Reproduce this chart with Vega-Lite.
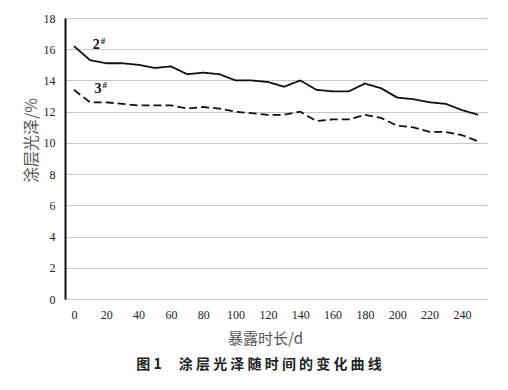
{
  "$schema": "https://vega.github.io/schema/vega-lite/v6.json",
  "width": 422,
  "height": 281,
  "autosize": "none",
  "padding": {"left": 65, "top": 18, "right": 21, "bottom": 91},
  "background": "white",
  "config": {"view": {"stroke": null}},
  "title": {
    "text": "图 1　 涂 层 光 泽 随 时 间 的 变 化 曲 线",
    "orient": "bottom",
    "anchor": "middle",
    "frame": "group",
    "dx": -17,
    "offset": 12,
    "font": "Noto Sans CJK SC",
    "fontSize": 14,
    "fontWeight": "bold",
    "color": "#222"
  },
  "datasets": {
    "gloss": [
      {"day": 0, "s": "2#", "v": 16.2}, {"day": 10, "s": "2#", "v": 15.3}, {"day": 20, "s": "2#", "v": 15.1},
      {"day": 30, "s": "2#", "v": 15.1}, {"day": 40, "s": "2#", "v": 15.0}, {"day": 50, "s": "2#", "v": 14.8},
      {"day": 60, "s": "2#", "v": 14.9}, {"day": 70, "s": "2#", "v": 14.4}, {"day": 80, "s": "2#", "v": 14.5},
      {"day": 90, "s": "2#", "v": 14.4}, {"day": 100, "s": "2#", "v": 14.0}, {"day": 110, "s": "2#", "v": 14.0},
      {"day": 120, "s": "2#", "v": 13.9}, {"day": 130, "s": "2#", "v": 13.6}, {"day": 140, "s": "2#", "v": 14.0},
      {"day": 150, "s": "2#", "v": 13.4}, {"day": 160, "s": "2#", "v": 13.3}, {"day": 170, "s": "2#", "v": 13.3},
      {"day": 180, "s": "2#", "v": 13.8}, {"day": 190, "s": "2#", "v": 13.5}, {"day": 200, "s": "2#", "v": 12.9},
      {"day": 210, "s": "2#", "v": 12.8}, {"day": 220, "s": "2#", "v": 12.6}, {"day": 230, "s": "2#", "v": 12.5},
      {"day": 240, "s": "2#", "v": 12.1}, {"day": 250, "s": "2#", "v": 11.8},
      {"day": 0, "s": "3#", "v": 13.4}, {"day": 10, "s": "3#", "v": 12.6}, {"day": 20, "s": "3#", "v": 12.6},
      {"day": 30, "s": "3#", "v": 12.5}, {"day": 40, "s": "3#", "v": 12.4}, {"day": 50, "s": "3#", "v": 12.4},
      {"day": 60, "s": "3#", "v": 12.4}, {"day": 70, "s": "3#", "v": 12.2}, {"day": 80, "s": "3#", "v": 12.3},
      {"day": 90, "s": "3#", "v": 12.2}, {"day": 100, "s": "3#", "v": 12.0}, {"day": 110, "s": "3#", "v": 11.9},
      {"day": 120, "s": "3#", "v": 11.8}, {"day": 130, "s": "3#", "v": 11.8}, {"day": 140, "s": "3#", "v": 12.0},
      {"day": 150, "s": "3#", "v": 11.4}, {"day": 160, "s": "3#", "v": 11.5}, {"day": 170, "s": "3#", "v": 11.5},
      {"day": 180, "s": "3#", "v": 11.8}, {"day": 190, "s": "3#", "v": 11.6}, {"day": 200, "s": "3#", "v": 11.1},
      {"day": 210, "s": "3#", "v": 11.0}, {"day": 220, "s": "3#", "v": 10.7}, {"day": 230, "s": "3#", "v": 10.7},
      {"day": 240, "s": "3#", "v": 10.5}, {"day": 250, "s": "3#", "v": 10.1}
    ],
    "labels": [
      {"day": 16, "v": 16.25, "num": "2", "sup": "#"},
      {"day": 17, "v": 13.45, "num": "3", "sup": "#"}
    ]
  },
  "layer": [
    {
      "data": {"name": "gloss"},
      "mark": {"type": "line", "color": "#111", "strokeWidth": 1.8},
      "encoding": {
        "x": {
          "field": "day", "type": "quantitative",
          "scale": {"domain": [-5.5, 255.5], "nice": false, "zero": false},
          "axis": {
            "values": [0, 20, 40, 60, 80, 100, 120, 140, 160, 180, 200, 220, 240],
            "tickCount": 30, "format": "d",
            "labelOverlap": false, "labelBound": false, "labelFlush": false,
            "grid": false, "ticks": false, "domain": false,
            "labelFont": "Liberation Serif", "labelFontSize": 12, "labelColor": "#222",
            "labelPadding": 10,
            "title": "暴露时长/d", "titleFont": "Noto Sans CJK SC", "titleFontSize": 15,
            "titleFontWeight": "normal", "titleColor": "#555", "titlePadding": 11,
            "titleX": 200, "titleAnchor": "middle"
          }
        },
        "y": {
          "field": "v", "type": "quantitative",
          "scale": {"domain": [0, 18], "nice": false},
          "axis": {
            "values": [0, 2, 4, 6, 8, 10, 12, 14, 16, 18],
            "tickCount": 30, "format": "d",
            "labelOverlap": false, "labelBound": false, "labelFlush": false,
            "grid": true, "gridColor": "#c8c8c8", "gridWidth": 1,
            "ticks": false, "domainColor": "#111", "domainWidth": 2,
            "labelFont": "Liberation Serif", "labelFontSize": 12, "labelColor": "#222",
            "labelPadding": 10,
            "title": "涂层光泽/%", "titleFont": "Noto Sans CJK SC", "titleFontSize": 16,
            "titleFontWeight": "normal", "titleColor": "#555",
            "titleX": -26, "titleY": 122, "titleAnchor": "middle"
          }
        },
        "strokeDash": {
          "field": "s", "type": "nominal",
          "scale": {"domain": ["2#", "3#"], "range": [[1, 0], [8, 4]]},
          "legend": null
        }
      }
    },
    {
      "mark": {"type": "rule", "color": "#111", "strokeWidth": 2},
      "encoding": {
        "x": {"datum": -5.5, "type": "quantitative"},
        "x2": {"datum": 263.5},
        "y": {"datum": 0, "type": "quantitative"}
      }
    },
    {
      "data": {"name": "labels"},
      "mark": {"type": "text", "font": "Liberation Serif", "fontSize": 14, "fontWeight": "bold", "align": "right", "baseline": "middle", "color": "#111"},
      "encoding": {
        "x": {"field": "day", "type": "quantitative"},
        "y": {"field": "v", "type": "quantitative"},
        "text": {"field": "num"}
      }
    },
    {
      "data": {"name": "labels"},
      "mark": {"type": "text", "font": "Liberation Serif", "fontSize": 9, "fontWeight": "bold", "align": "left", "baseline": "middle", "dx": 1, "dy": -4, "color": "#111"},
      "encoding": {
        "x": {"field": "day", "type": "quantitative"},
        "y": {"field": "v", "type": "quantitative"},
        "text": {"field": "sup"}
      }
    }
  ]
}
